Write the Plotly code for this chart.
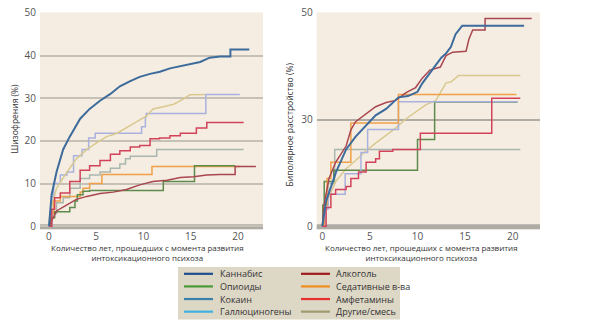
import plotly.graph_objects as go

# ---------------- DATA ----------------
legend_names = ["Каннабис", "Опиоиды", "Кокаин", "Галлюциногены",
                "Алкоголь", "Седативные в-ва", "Амфетамины", "Другие/смесь"]
legend_colors = ["#1f4e8c", "#4a9a3a", "#3a80a8", "#40b0e0",
                 "#a01c1c", "#f08c20", "#e83030", "#a09a70"]

x_ticks = [0, 5, 10, 15, 20]
scz_yticks = [0, 10, 20, 30, 40, 50]
bip_tickvals = [0, 25, 50]
bip_ticktext = ["0", "30", "50"]

# Schizophrenia panel (left)
scz_cannabis_x = [0, 0.1, 0.28, 0.8, 1.5, 2.2, 3.3, 4.3, 5.4, 6.5, 7.5, 8.6, 9.6, 10.7, 11.75, 12.8, 13.9, 14.9, 16, 17, 18.1, 19.2, 19.2, 21.2]
scz_cannabis_y = [0, 2.9, 7.4, 12.7, 18, 21, 25.2, 27.5, 29.4, 31, 32.8, 34, 35, 35.7, 36.2, 37, 37.5, 38, 38.5, 39.5, 39.8, 39.8, 41.4, 41.4]
scz_other_x = [0, 0.1, 0.8, 1.9, 2.9, 4.0, 5.0, 6.1, 7.2, 8.2, 9.3, 10.3, 11.0, 12.1, 13.2, 14.2, 14.9, 16.5]
scz_other_y = [0, 3, 8.9, 12.7, 15.8, 18, 19.5, 21, 21.8, 23, 24.5, 25.8, 27.5, 28, 28.6, 29.8, 30.8, 30.9]
scz_halluc_x = [0, 0.28, 0.5, 1.2, 1.9, 2.6, 3.5, 4.2, 4.9, 9.8, 10.2, 10.3, 16.6, 20.2]
scz_halluc_y = [0, 7, 10, 12, 12.7, 16.5, 18, 20.7, 21.8, 23.3, 25.6, 26.4, 30.9, 30.9]
scz_amph_x = [0, 0.3, 0.6, 1.2, 2.2, 3.3, 4.3, 5.4, 6.5, 7.5, 8.6, 9.6, 10.7, 11.7, 12.8, 13.9, 15.6, 16.7, 20.6]
scz_amph_y = [0, 4, 6.7, 7.8, 10.5, 13.1, 14.2, 15.4, 16.9, 17.7, 18.6, 18.9, 20.5, 20.7, 21.2, 21.8, 23, 24.3, 24.3]
scz_cocaine_x = [0, 0.3, 0.8, 1.5, 2.2, 3.3, 4.3, 5.4, 6.5, 7.5, 8.1, 8.6, 11.4, 20.6]
scz_cocaine_y = [0, 3, 5.5, 6.7, 8.9, 11.2, 12, 12.7, 13.6, 14.6, 15.8, 16.4, 18, 18]
scz_sedative_x = [0, 0.2, 0.5, 1.2, 3.3, 3.6, 4.3, 5.6, 10.9, 20.2]
scz_sedative_y = [0, 3, 5.9, 7.0, 8, 8.9, 10, 12.1, 14, 14]
scz_opioid_x = [0, 0.2, 0.6, 2.2, 2.75, 3.0, 3.6, 4.3, 12.1, 15.4, 19.7]
scz_opioid_y = [0, 2, 3.4, 4.4, 5.9, 7.4, 8.2, 8.4, 10.5, 14.2, 14.2]
scz_alcohol_x = [0, 0.8, 1.9, 2.9, 4.0, 5.4, 6.8, 8.2, 9.6, 11.0, 12.5, 13.9, 15.3, 16.7, 18.1, 19.7, 19.7, 21.9]
scz_alcohol_y = [0, 3.6, 5, 6.3, 7, 7.7, 8, 8.6, 9.7, 10.5, 10.8, 11.4, 11.6, 12, 12.1, 12.1, 14, 14]

# Bipolar disorder panel (right)
bip_cannabis_x = [0, 0.4, 1.44, 2.5, 3.5, 4.6, 5.6, 6.7, 7.7, 8.0, 9.0, 10.0, 10.5, 11.0, 11.5, 12.0, 12.5, 13.0, 13.5, 14.0, 14.7, 21.2]
bip_cannabis_y = [0, 5.9, 12.7, 18, 21, 23.7, 26, 27.5, 29.4, 30.2, 30.5, 31.5, 33.5, 35, 36.5, 38, 39.5, 40.5, 42, 45, 47, 47]
bip_alcohol_x = [0, 0.2, 0.7, 1.4, 2.5, 3.0, 3.5, 4.6, 5.6, 6.7, 7.7, 8.8, 9.8, 10.5, 11.3, 12.4, 13.0, 13.7, 15.1, 15.4, 15.8, 17.1, 17.1, 22.0]
bip_alcohol_y = [0, 5.2, 11.2, 15, 18.8, 22.6, 24.5, 26.4, 28, 29, 29.5, 31.3, 32.5, 34.7, 36.6, 37.3, 40, 40.8, 41, 43.8, 46, 46, 48.7, 48.7]
bip_sedative_x = [0, 0.2, 0.5, 0.9, 3.0, 8.0, 20.4]
bip_sedative_y = [0, 5, 11.2, 15, 24.2, 30.9, 30.9]
bip_halluc_x = [0, 0.3, 0.6, 2.4, 4.06, 4.76, 8.0, 20.5]
bip_halluc_y = [0, 4, 7.5, 12.3, 17.3, 22.7, 29.2, 29.2]
bip_other_x = [0, 0.4, 1.4, 2.5, 3.5, 4.6, 5.6, 6.7, 7.7, 8.8, 9.8, 10.9, 11.9, 12.3, 13.0, 13.5, 14.3, 20.8]
bip_other_y = [0, 5.2, 10.5, 13.5, 15.4, 17.7, 19.5, 21.4, 23, 25.2, 26.7, 28.5, 29.4, 31, 33.6, 33.8, 35.3, 35.3]
bip_amph_x = [0, 0.4, 0.9, 1.4, 2.5, 3.0, 3.8, 4.6, 5.6, 6.0, 7.4, 10.3, 17.8, 20.8]
bip_amph_y = [0, 4.4, 7.5, 8.6, 9.3, 11.2, 12.7, 15, 15.8, 17.6, 18, 21.8, 30, 30]
bip_opioid_x = [0, 0.05, 0.2, 1.2, 10.0, 11.8, 20.5]
bip_opioid_y = [0, 5, 10.5, 13.1, 20.3, 29.1, 29.1]
bip_cocaine_x = [0, 0.3, 0.6, 1.3, 20.8]
bip_cocaine_y = [0, 5, 10, 18, 18]

# plotted line colours (as they appear in the panels)
col = {
    "cannabis": "#3d6b9c", "alcohol": "#a9464f", "amph": "#d2435a",
    "other": "#d9c98f", "halluc": "#a9b1df", "cocaine": "#a9b7b0",
    "sedative": "#f0a048", "opioid": "#5e8a4c",
}

W, H = 600, 336
FONT = "Open Sans"

fig = go.Figure()

def add(x, y, key, axis, shape, width=1.5):
    fig.add_trace(go.Scatter(
        x=x, y=y, mode="lines", line=dict(color=col[key], width=width, shape=shape),
        xaxis="x" if axis == 1 else "x2", yaxis="y" if axis == 1 else "y2",
        showlegend=False, hoverinfo="skip"))

# left panel
add(scz_cocaine_x, scz_cocaine_y, "cocaine", 1, "hv")
add(scz_halluc_x, scz_halluc_y, "halluc", 1, "hv")
add(scz_other_x, scz_other_y, "other", 1, "linear")
add(scz_sedative_x, scz_sedative_y, "sedative", 1, "hv")
add(scz_opioid_x, scz_opioid_y, "opioid", 1, "hv")
add(scz_alcohol_x, scz_alcohol_y, "alcohol", 1, "linear")
add(scz_amph_x, scz_amph_y, "amph", 1, "hv")
add(scz_cannabis_x, scz_cannabis_y, "cannabis", 1, "linear", 2)
# right panel
add(bip_cocaine_x, bip_cocaine_y, "cocaine", 2, "hv")
add(bip_other_x, bip_other_y, "other", 2, "linear")
add(bip_opioid_x, bip_opioid_y, "opioid", 2, "hv")
add(bip_halluc_x, bip_halluc_y, "halluc", 2, "hv")
add(bip_sedative_x, bip_sedative_y, "sedative", 2, "hv")
add(bip_amph_x, bip_amph_y, "amph", 2, "hv")
add(bip_alcohol_x, bip_alcohol_y, "alcohol", 2, "linear")
add(bip_cannabis_x, bip_cannabis_y, "cannabis", 2, "linear", 2)

ydom = [1 - 229.3 / H, 1 - 5.6 / H]
tickfont = dict(family=FONT, size=10, color="#555555")

fig.update_layout(
    width=W, height=H, margin=dict(l=0, r=0, t=0, b=0),
    paper_bgcolor="white", plot_bgcolor="#f5ede1",
    font=dict(family=FONT),
    xaxis=dict(domain=[40 / W, 263 / W], range=[-0.95, 22.65], tickvals=x_ticks,
               showgrid=False, zeroline=False, showline=False, ticks="",
               tickfont=tickfont, fixedrange=True),
    yaxis=dict(domain=ydom, range=[-0.75, 50.1], tickvals=scz_yticks,
               showgrid=True, gridcolor="#c6c1b6", gridwidth=2, zeroline=False,
               showline=False, ticks="", tickfont=tickfont, ticklabelstandoff=3,
               ticklabeloverflow="allow"),
    xaxis2=dict(domain=[316.7 / W, 540 / W], range=[-0.59, 22.87], tickvals=x_ticks,
                showgrid=False, zeroline=False, showline=False, ticks="",
                tickfont=tickfont, anchor="y2"),
    yaxis2=dict(domain=ydom, range=[-0.75, 50.1], tickvals=bip_tickvals,
                ticktext=bip_ticktext, showgrid=True, gridcolor="#aeaca4",
                gridwidth=1.5, zeroline=False, showline=False, ticks="",
                tickfont=tickfont, anchor="x2", ticklabelstandoff=3,
                ticklabeloverflow="allow"),
)

# bottom baseline bands
for xr, yr in (("x domain", "y"), ("x2 domain", "y2")):
    fig.add_shape(type="rect", xref=xr, yref=yr, x0=0, x1=1, y0=-0.75, y1=0.45,
                  fillcolor="#aeaba4", line_width=0, layer="below")

# axis titles
tfont = dict(family=FONT, size=8.5, color="#333333")
fig.add_annotation(text="Шизофрения (%)", xref="paper", yref="paper",
                   x=15 / W, y=1 - 115 / H, textangle=-90, showarrow=False, font=tfont,
                   xanchor="center", yanchor="middle")
fig.add_annotation(text="Биполярное расстройство (%)", xref="paper", yref="paper",
                   x=289 / W, y=1 - 121 / H, textangle=-90, showarrow=False, font=tfont,
                   xanchor="center", yanchor="middle")
xt = "Количество лет, прошедших с момента развития<br>интоксикационного психоза"
for cx in (147, 421):
    fig.add_annotation(text=xt, xref="paper", yref="paper", x=cx / W, y=1 - 253.5 / H,
                       xanchor="center", yanchor="middle", showarrow=False,
                       font=dict(family=FONT, size=8, color="#333333"))

# legend box
fig.add_shape(type="rect", xref="paper", yref="paper", x0=178 / W, x1=400 / W,
              y0=1 - 322 / H, y1=1 - 268 / H, fillcolor="#ddd7c6", line_width=0)
rows = [275, 288, 301, 314]
for i, (name, c) in enumerate(zip(legend_names, legend_colors)):
    colidx, r = divmod(i, 4)
    py = rows[r]
    lx0, lx1, tx = (184, 213, 218) if colidx == 0 else (301, 330, 334)
    fig.add_shape(type="line", xref="paper", yref="paper", x0=lx0 / W, x1=lx1 / W,
                  y0=1 - py / H, y1=1 - py / H, line=dict(color=c, width=2.2))
    fig.add_annotation(text=name, xref="paper", yref="paper", x=tx / W, y=1 - py / H,
                       xanchor="left", yanchor="middle", showarrow=False,
                       font=dict(family=FONT, size=9, color="#333333"))

fig.write_html("out.html")
